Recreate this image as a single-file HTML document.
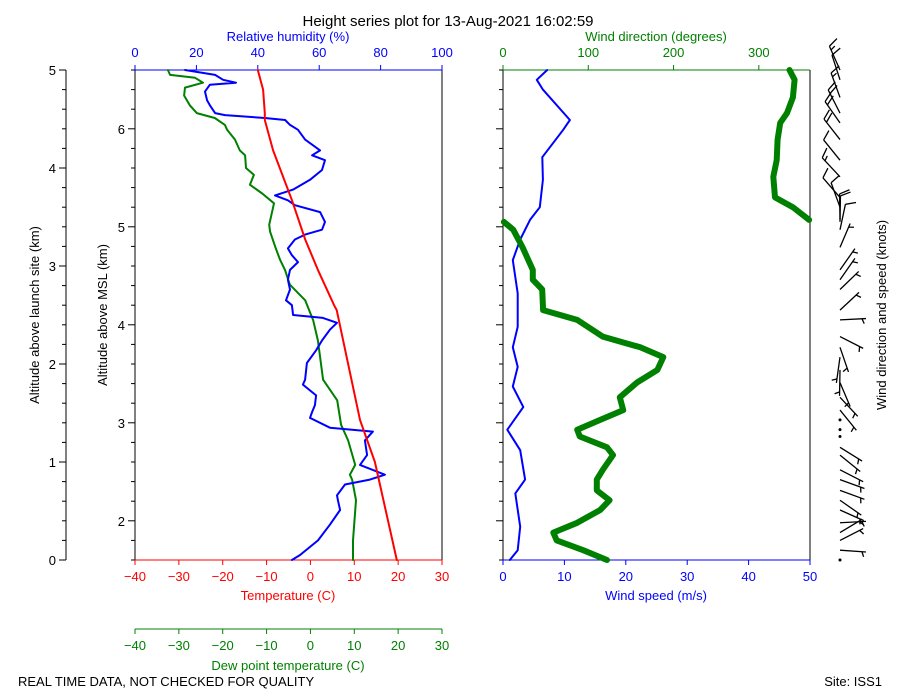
<!DOCTYPE html>
<html><head><meta charset="utf-8"><style>
body{margin:0;background:#fff;}
svg{display:block;font-family:"Liberation Sans","DejaVu Sans",sans-serif;}
</style></head><body>
<svg id="c" width="900" height="700" viewBox="0 0 900 700">
<rect x="0" y="0" width="900" height="700" fill="#fff"/>
<text x="448" y="26" font-size="15" text-anchor="middle">Height series plot for 13-Aug-2021 16:02:59</text>
<text x="288" y="41" font-size="13" fill="blue" text-anchor="middle">Relative humidity (%)</text>
<text x="656" y="41" font-size="13" fill="green" text-anchor="middle">Wind direction (degrees)</text>
<text x="288" y="600" font-size="13" fill="red" text-anchor="middle">Temperature (C)</text>
<text x="656" y="600" font-size="13" fill="blue" text-anchor="middle">Wind speed (m/s)</text>
<text x="288" y="670" font-size="13" fill="green" text-anchor="middle">Dew point temperature (C)</text>
<text transform="translate(39,315) rotate(-90)" font-size="13" text-anchor="middle">Altitude above launch site (km)</text>
<text transform="translate(107,315) rotate(-90)" font-size="13" text-anchor="middle">Altitude above MSL (km)</text>
<text transform="translate(886,315) rotate(-90)" font-size="13" text-anchor="middle">Wind direction and speed (knots)</text>
<text x="18" y="686" font-size="13">REAL TIME DATA, NOT CHECKED FOR QUALITY</text>
<text x="882" y="686" font-size="13" text-anchor="end">Site: ISS1</text>
<g id="g"></g>
</svg>
<script>
// ---- data (altitude above launch site, km) ----
const tempAlt=[5.00,4.80,4.56,4.49,4.18,3.67,3.27,2.96,2.60,2.55,1.43,1.00,0];
const tempVals=[-12.0,-10.8,-10.4,-10.4,-8.5,-4.2,-1.2,1.7,5.4,6.0,11.3,14.7,19.7];
const dewAlt=[5.0,4.95,4.92,4.87,4.82,4.74,4.64,4.56,4.51,4.44,4.39,4.29,4.18,4.13,4.0,3.93,3.83,3.74,3.64,3.42,3.35,3.18,3.06,2.96,2.81,2.65,2.47,2.45,2.24,1.84,1.63,1.38,1.22,0.97,0.87,0.82,0.61,0.20,0];
const dewVals=[-32.5,-32.0,-26.3,-24.5,-28.6,-28.8,-27.5,-25.9,-21.8,-19.5,-19.0,-17.2,-16.1,-14.9,-14.7,-12.9,-13.8,-11.0,-8.3,-9.4,-9.2,-7.9,-6.9,-5.8,-4.7,-1.2,0.4,0.6,1.7,2.9,6.1,7.0,8.6,10.2,9.0,9.5,10.4,9.7,9.7];
const rhAlt=[5.00,4.95,4.90,4.87,4.85,4.78,4.69,4.64,4.56,4.54,4.51,4.49,4.44,4.39,4.29,4.18,4.13,4.08,3.98,3.88,3.78,3.72,3.67,3.62,3.55,3.45,3.37,3.32,3.27,3.18,3.11,3.04,2.96,2.86,2.76,2.65,2.60,2.50,2.47,2.42,2.35,2.24,2.14,2.01,1.84,1.79,1.68,1.58,1.51,1.45,1.35,1.31,1.22,1.07,0.97,0.87,0.82,0.77,0.66,0.61,0.51,0.36,0.20,0.05,0];
const rhVals=[16.3,26.1,28.7,32.9,24.4,22.8,23.5,24.4,26.1,29.3,42.3,48.9,50.5,53.1,55.4,60.3,57.7,61.9,60.9,57.0,51.5,45.6,49.8,52.1,60.3,61.9,60.9,55.4,52.1,49.8,51.1,53.1,50.5,49.8,50.5,49.2,51.1,51.5,61.2,65.8,63.5,60.9,59.0,56.0,55.4,54.7,59.0,58.6,57.7,57.0,63.5,77.5,74.9,75.6,73.3,81.4,76.5,68.4,65.8,66.1,66.8,63.5,59.6,53.7,51.1];
const spdAlt=[5.00,4.90,4.80,4.49,4.39,4.11,3.88,3.60,3.47,3.27,3.06,2.72,2.38,2.17,1.97,1.77,1.56,1.33,1.12,0.82,0.68,0.34,0.10,0];
const spdVals=[7.2,5.5,6.5,10.9,9.8,6.4,6.5,6.0,4.4,2.8,1.6,2.4,2.4,1.6,2.4,1.6,3.3,0.7,2.8,3.6,2.0,2.8,2.4,1.1];
const dirAlt=[5.00,4.90,4.72,4.56,4.46,4.29,4.08,3.91,3.70,3.60,3.47,3.45,3.37,3.19,2.96,2.86,2.76,2.55,2.45,2.28,2.17,2.07,1.94,1.81,1.66,1.53,1.43,1.33,1.26,1.15,1.07,0.92,0.82,0.71,0.61,0.51,0.38,0.28,0.20,0.10,0];
const dirVals=[336,342,340,333,325,322,321,317,319,340,359,1,12,23,35,35,46,47,87,117,161,188,181,157,137,141,114,87,90,122,129,117,110,110,125,114,87,59,63,94,122];
const tempTicks=[-40,-30,-20,-10,0,10,20,30];
const rhTicks=[0,20,40,60,80,100];
const spdTicks=[0,10,20,30,40,50];
const dirTicks=[0,100,200,300];
const launchTicks=[0,1,2,3,4,5];
const mslTicks=[2,3,4,5,6];
const mslOffset=1.6;

// ---- scales ----
const Y0=560,Y1=70;
const yA=a=>Y0-(Y0-Y1)*a/5;
const xT=t=>135+(t+40)*307/70;
const xRH=r=>135+r*3.07;
const xS=s=>503+s*307/50;
const xD=d=>503+d*307/360;
const g=document.getElementById('g');
const NS='http://www.w3.org/2000/svg';
function mk(tag,attrs,parent){const e=document.createElementNS(NS,tag);for(const k in attrs)e.setAttribute(k,attrs[k]);(parent||g).appendChild(e);return e;}
function txt(x,y,s,fill,anchor,size){const e=mk('text',{x:x,y:y,fill:fill,'text-anchor':anchor,'font-size':size||13});e.textContent=s;return e;}

// frames
let e;
e=mk('line',{x1:66,y1:70,x2:66,y2:560,stroke:'#000'});
for(let i=0;i<=25;i++){const a=i*0.2,y=yA(a),maj=Math.abs(a-Math.round(a))<1e-6;
 e=mk('line',{x1:66-(maj?7:4),y1:y,x2:66,y2:y,stroke:'#000'});}
launchTicks.forEach(v=>{e=txt(56,yA(v)+5,String(v),'#000','end');});
function panel(x0,x1,name,topCol,botCol){
 e=mk('line',{x1:x0,y1:70,x2:x0,y2:560,stroke:'#000'});
 e=mk('line',{x1:x1,y1:70,x2:x1,y2:560,stroke:'#000'});
 e=mk('line',{x1:x0,y1:70,x2:x1,y2:70,stroke:topCol});
 e=mk('line',{x1:x0,y1:560,x2:x1,y2:560,stroke:botCol});
 for(let i=0;i<=25;i++){const m=mslOffset+i*0.2;const y=yA(m-mslOffset);if(y<70)break;const maj=Math.abs(m-Math.round(m))<1e-6;
  e=mk('line',{x1:x0-(maj?7:4),y1:y,x2:x0,y2:y,stroke:'#000'});}
}
panel(135,442,'thermo-panel','blue','red');
panel(503,810,'wind-panel','green','blue');
mslTicks.forEach(v=>{e=txt(125,yA(v-mslOffset)+5,String(v),'#000','end');});
// x axes
tempTicks.forEach(v=>{const x=xT(v);
 e=mk('line',{x1:x,y1:560,x2:x,y2:565,stroke:'red'});
 e=txt(x,581,v<0?'\u2212'+(-v):String(v),'red','middle');
 e=mk('line',{x1:x,y1:629,x2:x,y2:634,stroke:'green'});
 e=txt(x,650,v<0?'\u2212'+(-v):String(v),'green','middle');});
e=mk('line',{x1:135,y1:629,x2:442,y2:629,stroke:'green'});
rhTicks.forEach(v=>{const x=xRH(v);
 e=mk('line',{x1:x,y1:65,x2:x,y2:70,stroke:'blue'});
 e=txt(x,57,String(v),'blue','middle');});
spdTicks.forEach(v=>{const x=xS(v);
 e=mk('line',{x1:x,y1:560,x2:x,y2:565,stroke:'blue'});
 e=txt(x,581,String(v),'blue','middle');});
dirTicks.forEach(v=>{const x=xD(v);
 e=mk('line',{x1:x,y1:65,x2:x,y2:70,stroke:'green'});
 e=txt(x,57,String(v),'green','middle');});

// series
function line(alts,vals,fx,col,w,name){
 let segs=[[]];
 for(let i=0;i<alts.length;i++){
  if(i>0&&Math.abs(vals[i]-vals[i-1])>180)segs.push([]);
  segs[segs.length-1].push(fx(vals[i]).toFixed(1)+','+yA(alts[i]).toFixed(1));}
 segs.forEach(s=>{e=mk('polyline',{points:s.join(' '),fill:'none',stroke:col,'stroke-width':w,'stroke-linejoin':'round','stroke-linecap':'round'});
  });
}
line(dewAlt,dewVals,xT,'green',2,'dewpoint-line');
line(rhAlt,rhVals,xRH,'blue',2,'relative-humidity-line');
line(tempAlt,tempVals,xT,'red',2,'temperature-line');
line(spdAlt,spdVals,xS,'blue',2,'wind-speed-line');
line(dirAlt,dirVals,xD,'green',6,'wind-direction-line');

// wind barbs
function nearestSpd(a){let b=0;for(let i=1;i<spdAlt.length;i++)if(Math.abs(spdAlt[i]-a)<Math.abs(spdAlt[b]-a))b=i;return spdVals[b];}
for(let i=0;i<dirAlt.length;i++){
 const x=840,y=yA(dirAlt[i]),kt=nearestSpd(dirAlt[i])*1.944,d=dirVals[i]*Math.PI/180,L=26;
 const gb=mk('g',{});
 if(kt<2.5){mk('circle',{cx:x,cy:y,r:1.5,fill:'#000'},gb);continue;}
 const ux=Math.sin(d),uy=-Math.cos(d);
 const ex=x+ux*L,ey=y+uy*L;
 mk('line',{x1:x,y1:y,x2:ex,y2:ey,stroke:'#000','stroke-width':1.3},gb);
 let r=Math.round(kt/5)*5,pos=0;const px=-uy,py=ux;
 while(r>=10){const bx=ex-ux*pos,by=ey-uy*pos;mk('line',{x1:bx,y1:by,x2:bx+px*10+ux*4,y2:by+py*10+uy*4,stroke:'#000','stroke-width':1.3},gb);r-=10;pos+=4;}
 if(r>=5){if(pos===0)pos=4;const bx=ex-ux*pos,by=ey-uy*pos;mk('line',{x1:bx,y1:by,x2:bx+px*5+ux*2,y2:by+py*5+uy*2,stroke:'#000','stroke-width':1.3},gb);}
}
</script>
</body></html>
